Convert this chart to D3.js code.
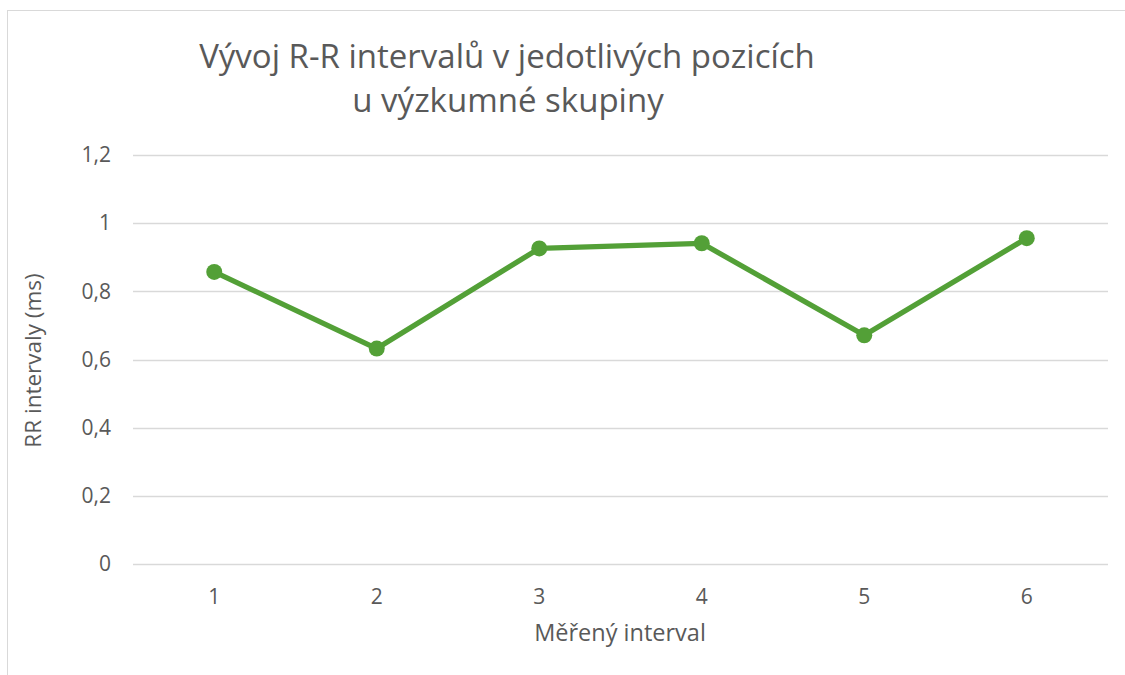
<!DOCTYPE html>
<html>
<head>
<meta charset="utf-8">
<script src="https://cdn.jsdelivr.net/npm/d3@7"></script>
<style>
  body { margin: 0; background: #fff; }
  svg { font-family: "Open Sans", sans-serif; }
</style>
</head>
<body>
<svg width="1125" height="675"></svg>
<script>
// Data
const categories = [1, 2, 3, 4, 5, 6]
const values = [0.857, 0.632, 0.926, 0.941, 0.671, 0.956]
const yTicks = [0, 0.2, 0.4, 0.6, 0.8, 1, 1.2]

// Rozměry
const plotLeft = 133
const plotRight = 1108
const plotTop = 155
const plotBottom = 564
const green = "#53a037"
const textColor = "#595959"

const svg = d3.select("svg")

// Rámeček
svg.append("rect")
  .attr("x", 7.5).attr("y", 10.5)
  .attr("width", 1130).attr("height", 680)
  .attr("fill", "none")
  .attr("stroke", "#d9d9d9")

// Škály
const xScale = d3.scaleBand(categories, [plotLeft, plotRight])
const yScale = d3.scaleLinear([0, 1.2], [plotBottom, plotTop])
const fmt = d => d3.format("")(d).replace(".", ",")

// Mřížka
svg.append("g")
  .selectAll("line")
  .data(yTicks)
  .join("line")
    .attr("x1", plotLeft).attr("x2", plotRight)
    .attr("y1", d => Math.round(yScale(d)) + 0.5)
    .attr("y2", d => Math.round(yScale(d)) + 0.5)
    .attr("stroke", "#d9d9d9")
    .attr("stroke-width", 1.3)

// Osa Y
const yAxis = d3.axisLeft(yScale).tickValues(yTicks).tickFormat(fmt).tickSize(0).tickPadding(22)
svg.append("g")
  .attr("transform", `translate(${plotLeft}, 0)`)
  .call(yAxis)
  .call(g => g.select(".domain").remove())
  .call(g => g.selectAll("text")
    .attr("fill", textColor)
    .attr("font-size", "21px")
    .attr("font-family", "Open Sans, sans-serif"))

// Osa X
const xAxis = d3.axisBottom(xScale).tickSize(0).tickPadding(25)
svg.append("g")
  .attr("transform", `translate(0, ${plotBottom})`)
  .call(xAxis)
  .call(g => g.select(".domain").remove())
  .call(g => g.selectAll("text")
    .attr("fill", textColor)
    .attr("font-size", "21px")
    .attr("font-family", "Open Sans, sans-serif"))

// Čára
const cx = d => xScale(d) + xScale.bandwidth() / 2
const line = d3.line()
  .x((d, i) => cx(categories[i]))
  .y(d => yScale(d))

svg.append("path")
  .datum(values)
  .attr("d", line)
  .attr("fill", "none")
  .attr("stroke", green)
  .attr("stroke-width", 5.3)
  .attr("stroke-linejoin", "round")

svg.append("g")
  .selectAll("circle")
  .data(values)
  .join("circle")
    .attr("cx", (d, i) => cx(categories[i]))
    .attr("cy", d => yScale(d))
    .attr("r", 8)
    .attr("fill", green)

// Titulek
const title = svg.append("text")
  .attr("text-anchor", "middle")
  .attr("fill", textColor)
  .attr("font-size", "33px")
title.append("tspan").attr("x", 507).attr("y", 68).text("Vývoj R-R intervalů v jedotlivých pozicích")
title.append("tspan").attr("x", 508).attr("y", 112).text("u výzkumné skupiny")

// Popisky os
svg.append("text")
  .attr("x", 620)
  .attr("y", 641)
  .attr("text-anchor", "middle")
  .attr("fill", textColor)
  .attr("font-size", "23.5px")
  .text("Měřený interval")

svg.append("text")
  .attr("transform", `translate(41, ${(plotTop + plotBottom) / 2 + 1}) rotate(-90)`)
  .attr("text-anchor", "middle")
  .attr("fill", textColor)
  .attr("font-size", "22.5px")
  .text("RR intervaly (ms)")
</script>
</body>
</html>
